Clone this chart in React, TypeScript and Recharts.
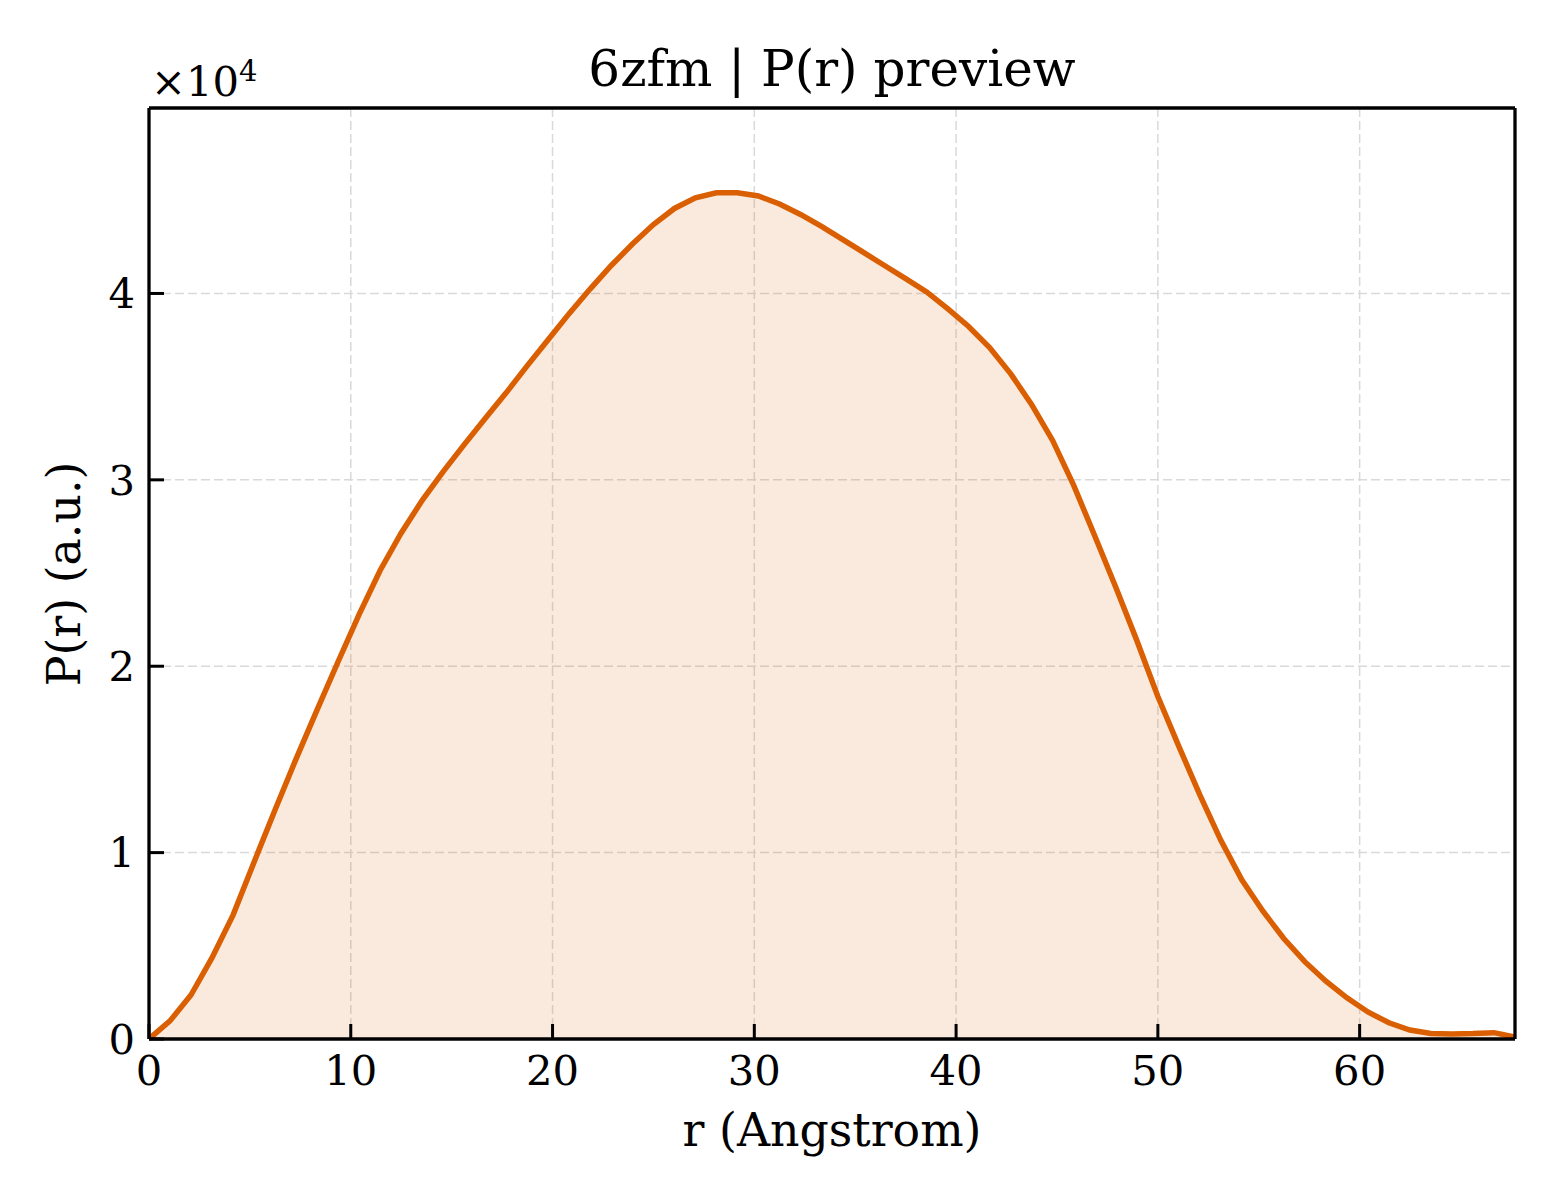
import React from "react";
import { AreaChart, Area, XAxis, YAxis, CartesianGrid } from "recharts";

const rValues = [
  0.0, 1.04, 2.08, 3.12, 4.17, 5.21, 6.25, 7.29, 8.33, 9.37,
  10.42, 11.46, 12.5, 13.54, 14.58, 15.62, 16.66, 17.71, 18.75, 19.79,
  20.83, 21.87, 22.91, 23.96, 25.0, 26.04, 27.08, 28.12, 29.16, 30.2,
  31.25, 32.29, 33.33, 34.37, 35.41, 36.45, 37.5, 38.54, 39.58, 40.62,
  41.66, 42.7, 43.74, 44.79, 45.83, 46.87, 47.91, 48.95, 49.99, 51.04,
  52.08, 53.12, 54.16, 55.2, 56.24, 57.28, 58.33, 59.37, 60.41, 61.45,
  62.49, 63.53, 64.57, 65.62, 66.66, 67.7,
];

const prValues = [
  0, 970, 2360, 4350, 6660, 9500, 12300, 15030, 17660, 20240,
  22800, 25150, 27150, 28900, 30440, 31890, 33290, 34680, 36130, 37530,
  38930, 40250, 41500, 42650, 43700, 44560, 45130, 45400, 45400, 45230,
  44800, 44240, 43600, 42900, 42200, 41500, 40800, 40080, 39190, 38230,
  37100, 35700, 34050, 32100, 29700, 27000, 24250, 21400, 18400, 15700,
  13100, 10660, 8540, 6870, 5390, 4150, 3100, 2210, 1450, 870,
  480, 300, 270, 290, 340, 100,
];

const xTicks = [0, 10, 20, 30, 40, 50, 60];
const yTicks = [0, 10000, 20000, 30000, 40000];

const data = rValues.map((r, i) => ({ r, p: prValues[i] }));

const FONT = "'DejaVu Serif', serif";
const ORANGE = "#D95F02";
const frame = { stroke: "#000", strokeWidth: 3.3 };
const tickFont = { fill: "#000", fontSize: 41.7, fontFamily: FONT };

export default function App() {
  return (
    <div style={{ position: "absolute", left: 0, top: 0, width: 1560, height: 1200, background: "#fff" }}>
      <AreaChart
        width={1560}
        height={1200}
        data={data}
        margin={{ top: 107, right: 44, left: 89, bottom: 101 }}
      >
        <CartesianGrid stroke="#d9d9d9" strokeWidth={1.5} strokeDasharray="9 4" />
        <XAxis
          dataKey="r"
          type="number"
          domain={[0, 67.7]}
          ticks={xTicks}
          allowDataOverflow
          height={60}
          tickSize={-15}
          tickMargin={31}
          tickLine={{ stroke: "#000", strokeWidth: 3 }}
          axisLine={frame}
          tick={tickFont}
        />
        <XAxis
          xAxisId="top"
          orientation="top"
          dataKey="r"
          type="number"
          domain={[0, 67.7]}
          height={1}
          tick={false}
          tickLine={false}
          axisLine={frame}
        />
        <YAxis
          type="number"
          domain={[0, 49950]}
          ticks={yTicks}
          allowDataOverflow
          width={60}
          tickSize={-15}
          tickMargin={29}
          tickLine={{ stroke: "#000", strokeWidth: 3 }}
          axisLine={frame}
          tick={tickFont}
          tickFormatter={(v: number) => String(v / 10000)}
        />
        <YAxis
          yAxisId="right"
          orientation="right"
          type="number"
          domain={[0, 49950]}
          width={1}
          tick={false}
          tickLine={false}
          axisLine={frame}
        />
        <Area
          type="linear"
          dataKey="p"
          stroke={ORANGE}
          strokeWidth={5.5}
          fill={ORANGE}
          fillOpacity={0.13}
          dot={false}
          activeDot={false}
          isAnimationActive={false}
        />
      </AreaChart>

      <svg
        width={1560}
        height={1200}
        style={{ position: "absolute", left: 0, top: 0, pointerEvents: "none" }}
        fontFamily={FONT}
      >
        <text x={832} y={86} textAnchor="middle" fontSize={50} fill="#000">
          6zfm | P(r) preview
        </text>
        <text x={832} y={1146} textAnchor="middle" fontSize={45.8} fill="#000">
          r (Angstrom)
        </text>
        <text
          x={80}
          y={574}
          textAnchor="middle"
          fontSize={45.8}
          fill="#000"
          transform="rotate(-90, 80, 574)"
        >
          P(r) (a.u.)
        </text>
        <text x={151} y={96} fontSize={41.7} fill="#000">
          ×10
          <tspan fontSize={29} dy={-15}>4</tspan>
        </text>
      </svg>
    </div>
  );
}
